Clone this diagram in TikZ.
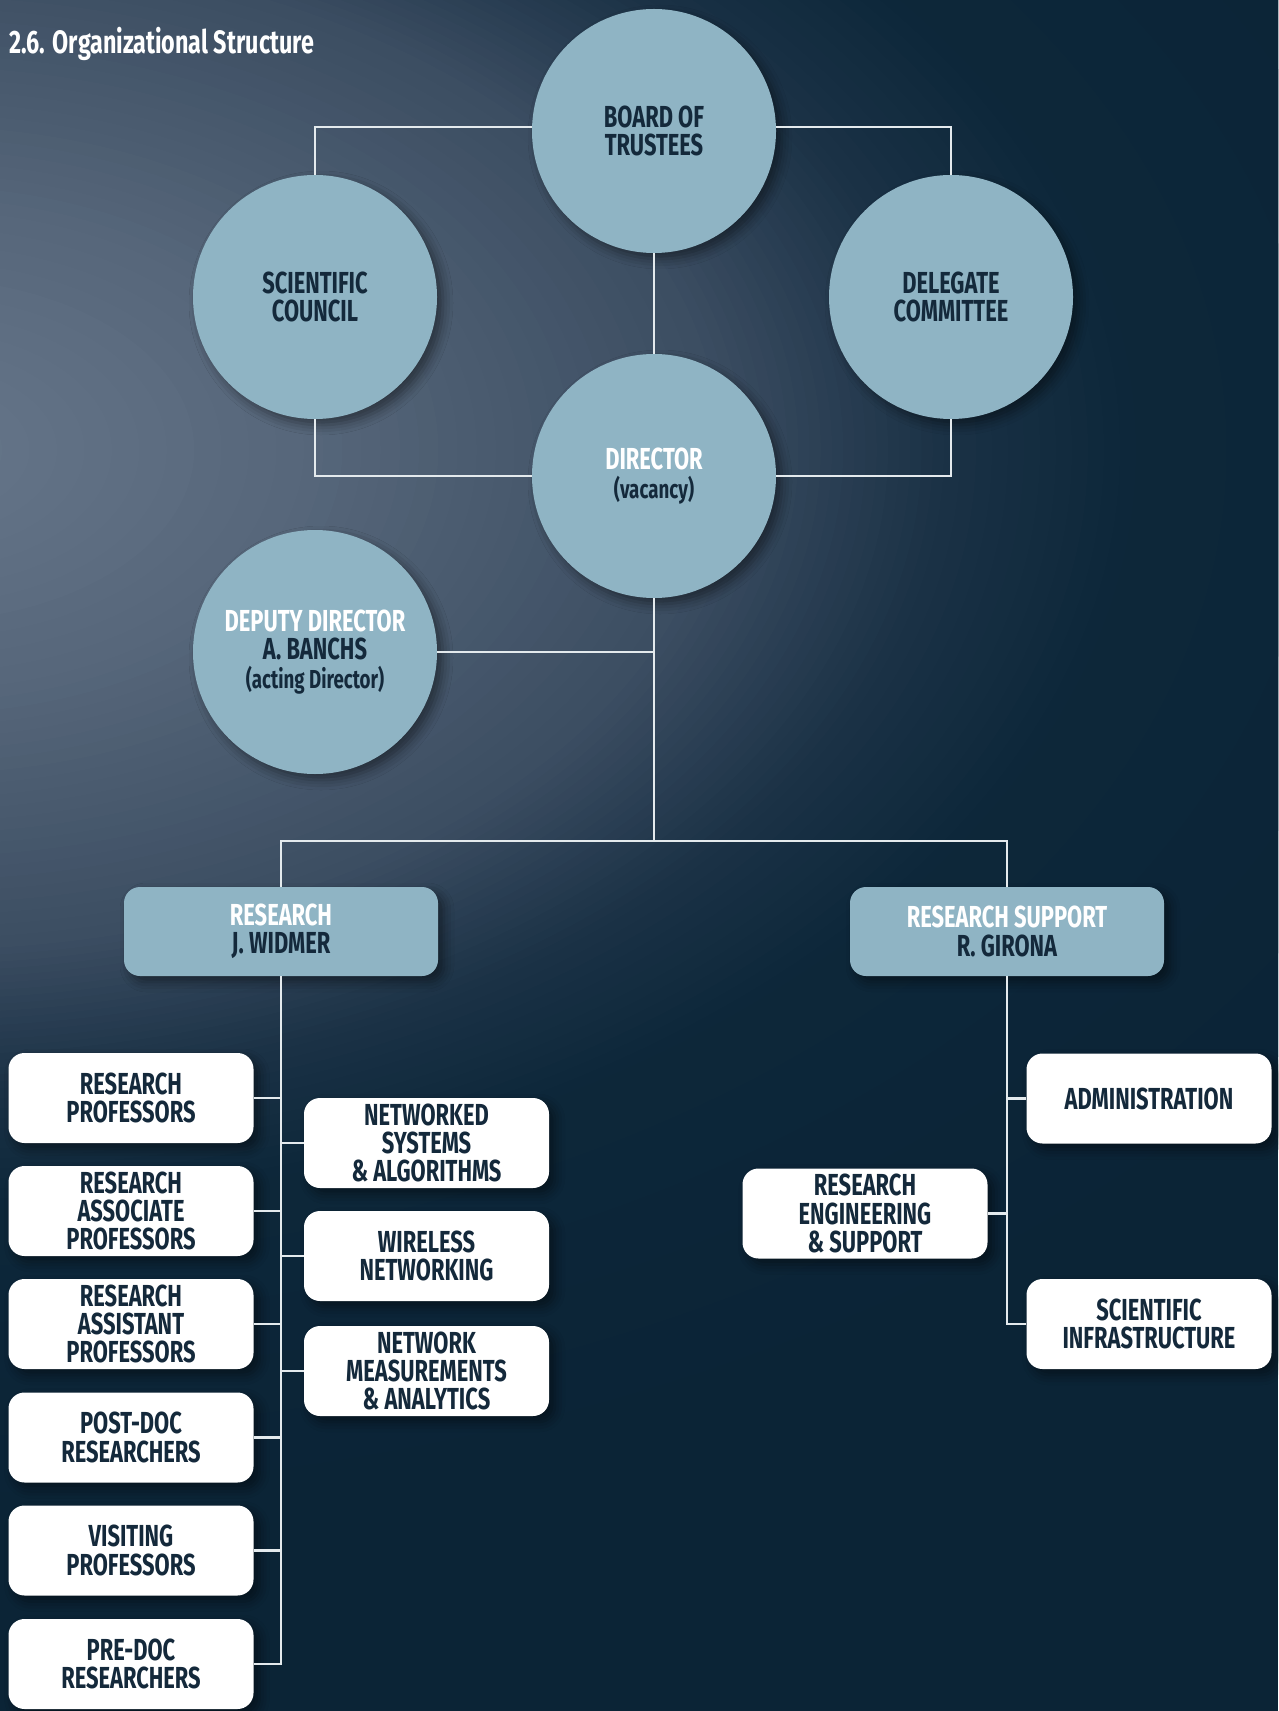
\documentclass[tikz,border=0pt]{standalone}
\usepackage{fontspec}
\setmainfont{Fira Sans}[FakeStretch=0.72]
\usetikzlibrary{shadows.blur}
\definecolor{circ}{HTML}{8FB4C4}
\definecolor{ink}{HTML}{14293B}
\definecolor{wire}{HTML}{E4EAED}
\definecolor{bg0}{HTML}{67778B}
\definecolor{bg1}{HTML}{57677B}
\definecolor{bg2}{HTML}{4A5B6F}
\definecolor{bg3}{HTML}{3C4E62}
\definecolor{bg4}{HTML}{2B3F54}
\definecolor{bg5}{HTML}{1B3246}
\definecolor{bg6}{HTML}{0D273A}
\definecolor{bg7}{HTML}{0B2436}
\tikzset{
  lbl/.style={font=\bfseries\fontsize{15.2}{14.2}\selectfont, text=ink, align=center},
  shad/.style={blur shadow={shadow xshift=3pt, shadow yshift=-3pt, shadow blur radius=5pt, shadow opacity=45}},
  bubble/.style={circle, fill=circ, minimum size=122pt, inner sep=0pt, shad, lbl},
  headbox/.style={rectangle, rounded corners=8pt, fill=circ, minimum width=157pt, minimum height=44.5pt, inner sep=0pt, shad, lbl},
  unitbox/.style={rectangle, rounded corners=8pt, fill=white, minimum width=122.5pt, minimum height=45pt, inner sep=0pt, shad, lbl},
  conn/.style={draw=wire, line width=1.2pt},
}
\newcommand{\wt}[1]{\textcolor{white}{#1}}
\newcommand{\sm}[1]{{\fontsize{13}{14.2}\selectfont #1}}
% ring segment: outer radius, inner radius, outer colour, inner colour, steps
\newcommand{\bgseg}[5]{%
  \foreach \i in {0,...,#5}{%
    \pgfmathsetmacro\rr{#1-(#1-#2)*\i/#5}%
    \pgfmathtruncatemacro\pp{100*\i/#5}%
    \fill[#4!\pp!#3] (bgc) ellipse[x radius=1.6*\rr, y radius=\rr];
  }}
\begin{document}
\begin{tikzpicture}[x=0.5pt,y=-0.5pt]
\useasboundingbox (0,0) rectangle (1278,1711);
\begin{scope}
\clip (0,0) rectangle (1278,1711);
\fill[bg7] (0,0) rectangle (1278,1711);
\coordinate (bgc) at (-80,450);
\bgseg{1100}{760}{bg7}{bg6}{6}
\bgseg{760}{640}{bg6}{bg5}{12}
\bgseg{640}{570}{bg5}{bg4}{10}
\bgseg{570}{500}{bg4}{bg3}{10}
\bgseg{500}{360}{bg3}{bg2}{12}
\bgseg{360}{240}{bg2}{bg1}{10}
\bgseg{240}{0}{bg1}{bg0}{14}
\end{scope}

\node[anchor=west, font=\bfseries\fontsize{16.2}{16}\selectfont, text=white, inner sep=0pt] (title) at (9,44) {2.6. Organizational Structure};

% circles
\node[bubble] (board) at (654,131) {BOARD OF\\TRUSTEES};
\node[bubble] (sci) at (315,297) {SCIENTIFIC\\COUNCIL};
\node[bubble] (dele) at (951,297) {DELEGATE\\COMMITTEE};
\node[bubble] (dir) at (654,476) {\wt{DIRECTOR}\\\sm{(vacancy)}};
\node[bubble] (dep) at (315,652) {\wt{DEPUTY DIRECTOR}\\A. BANCHS\\\sm{(acting Director)}};

% head boxes
\node[headbox] (res) at (281,931.5) {\wt{RESEARCH}\\J. WIDMER};
\node[headbox] (sup) at (1007,931.5) {\wt{RESEARCH SUPPORT}\\R. GIRONA};

% research units left
\node[unitbox] (rp) at (131,1098) {RESEARCH\\PROFESSORS};
\node[unitbox] (rap) at (131,1211) {RESEARCH\\ASSOCIATE\\PROFESSORS};
\node[unitbox] (rsp) at (131,1324) {RESEARCH\\ASSISTANT\\PROFESSORS};
\node[unitbox] (pd) at (131,1437.5) {POST-DOC\\RESEARCHERS};
\node[unitbox] (vp) at (131,1550.5) {VISITING\\PROFESSORS};
\node[unitbox] (prd) at (131,1664) {PRE-DOC\\RESEARCHERS};
% research groups right
\node[unitbox] (nsa) at (426.5,1143) {NETWORKED\\SYSTEMS\\\& ALGORITHMS};
\node[unitbox] (wn) at (426.5,1256) {WIRELESS\\NETWORKING};
\node[unitbox] (nma) at (426.5,1371) {NETWORK\\MEASUREMENTS\\\& ANALYTICS};
% support units
\node[unitbox] (adm) at (1149,1098.5) {ADMINISTRATION};
\node[unitbox] (reng) at (865,1213.5) {RESEARCH\\ENGINEERING\\\& SUPPORT};
\node[unitbox] (sinf) at (1149,1324) {SCIENTIFIC\\INFRASTRUCTURE};

\coordinate (j) at (654,841);

% connectors
\draw[conn] ([yshift=2pt]board.west) -| (sci.north);
\draw[conn] ([yshift=2pt]board.east) -| (dele.north);
\draw[conn] (board.south) -- (dir.north);
\draw[conn] (dir.west) -| (sci.south);
\draw[conn] (dir.east) -| (dele.south);
\draw[conn] (dep.east) -- (dep.east -| dir.south);
\draw[conn] (dir.south) -- (j);
\draw[conn] (res.north) |- (j) -| (sup.north);

\draw[conn] (res.south) |- (prd.east);
\foreach \b in {rp,rap,rsp,pd,vp} \draw[conn] (\b.east) -- (\b.east -| res.south);
\foreach \b in {nsa,wn,nma} \draw[conn] (\b.west) -- (\b.west -| res.south);

\draw[conn] (sup.south) |- (sinf.west);
\draw[conn] (adm.west) -- (adm.west -| sup.south);
\draw[conn] (reng.east) -- (reng.east -| sup.south);
\end{tikzpicture}
\end{document}
